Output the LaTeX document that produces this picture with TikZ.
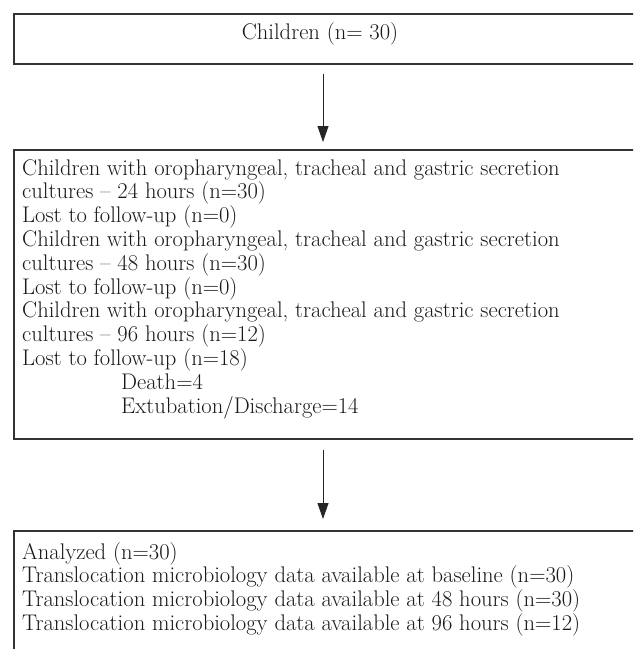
\documentclass[tikz,border=0pt]{standalone}
\usepackage{fontspec}
\usetikzlibrary{arrows.meta}
\tikzset{
  boxframe/.style={draw=black!80, line width=1.5pt, inner sep=0pt, anchor=north west, minimum width=660pt},
  boxtext/.style={inner sep=0pt, text=black!90, font=\fontsize{22.6}{23.5}\selectfont},
  flowarrow/.style={draw=black!85, line width=0.9pt, -{Triangle[length=16pt,width=11pt]}}
}
\begin{document}
\begin{tikzpicture}[x=1pt,y=-1pt]
\useasboundingbox (0,0) rectangle (633,649);
\clip (0,0) rectangle (633,649);
\fill[white] (0,0) rectangle (633,649);
% boxes
\node[boxframe, minimum height=50pt] (b1) at (13,13) {};
\node[boxframe, minimum height=289pt] (b2) at (13,149) {};
\node[boxframe, minimum height=200pt] (b3) at (13,530) {};
\coordinate (ax) at (323,0);
% texts
\node[boxtext, anchor=base] (t1) at (320,39) {Children (n= 30)};
\node[boxtext, anchor=base west] (t2) at (22,175) {\begin{tabular}[t]{@{}l@{}}
Children with oropharyngeal, tracheal and gastric secretion\\
cultures – 24 hours (n=30)\\
Lost to follow-up (n=0)\\
Children with oropharyngeal, tracheal and gastric secretion\\
cultures – 48 hours (n=30)\\
Lost to follow-up (n=0)\\
Children with oropharyngeal, tracheal and gastric secretion\\
cultures – 96 hours (n=12)\\
Lost to follow-up (n=18)\\
\hspace*{99pt}Death=4\\
\hspace*{99pt}Extubation/Discharge=14
\end{tabular}};
\node[boxtext, font=\fontsize{22.6}{23}\selectfont, anchor=base west] (t3) at (22,559) {\begin{tabular}[t]{@{}l@{}}
Analyzed (n=30)\\
Translocation microbiology data available at baseline (n=30)\\
Translocation microbiology data available at 48 hours (n=30)\\
Translocation microbiology data available at 96 hours (n=12)
\end{tabular}};
% arrows
\draw[flowarrow] ([yshift=-9pt]b1.south -| ax) -- ([yshift=7pt]b2.north -| ax);
\draw[flowarrow] ([yshift=-10pt]b2.south -| ax) -- ([yshift=11pt]b3.north -| ax);
\end{tikzpicture}
\end{document}
